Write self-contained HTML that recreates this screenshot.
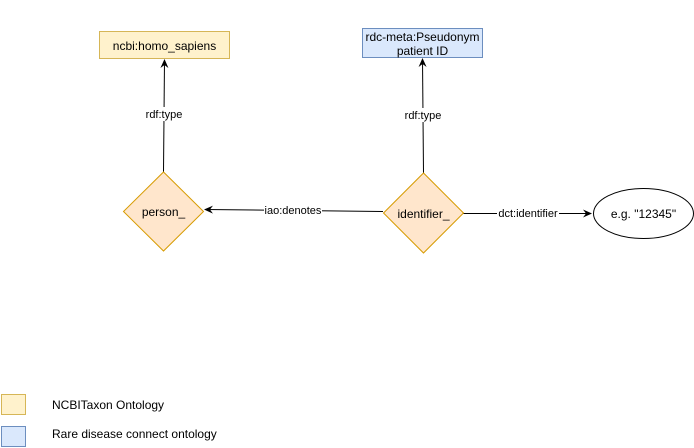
<!DOCTYPE html>
<html><head><meta charset="utf-8"><style>body{margin:0;background:#fff}svg{display:block}</style></head>
<body>
<svg width="694" height="448" viewBox="0 0 694 448" xmlns="http://www.w3.org/2000/svg" font-family="Liberation Sans, sans-serif">
<defs><marker id="a" markerWidth="10" markerHeight="10" refX="8" refY="5" orient="auto" markerUnits="userSpaceOnUse"><path d="M0,1 L9,5 L0,9 L3,5 Z" fill="#000"/></marker></defs>
<rect x="99.5" y="31.5" width="130" height="27" fill="#fff2cc" stroke="#d6b656"/>
<text x="164.5" y="50" font-size="12" text-anchor="middle">ncbi:homo_sapiens</text>
<rect x="362.5" y="28.5" width="120" height="29" fill="#dae8fc" stroke="#6c8ebf"/>
<text x="422.5" y="41" font-size="12" text-anchor="middle">rdc-meta:Pseudonym</text>
<text x="422.5" y="55" font-size="12" text-anchor="middle">patient ID</text>
<line x1="163.5" y1="172" x2="164.5" y2="60" stroke="#000" marker-end="url(#a)"/>
<rect x="144" y="107" width="40" height="14" fill="#fff"/>
<text x="164" y="118" font-size="11" text-anchor="middle">rdf:type</text>
<line x1="423.5" y1="173" x2="422.5" y2="59" stroke="#000" marker-end="url(#a)"/>
<rect x="403" y="108" width="40" height="14" fill="#fff"/>
<text x="423" y="119" font-size="11" text-anchor="middle">rdf:type</text>
<line x1="383" y1="211.5" x2="205" y2="209.5" stroke="#000" marker-end="url(#a)"/>
<rect x="264" y="203" width="58" height="14" fill="#fff"/>
<text x="293" y="214" font-size="11" text-anchor="middle">iao:denotes</text>
<line x1="463" y1="213.5" x2="591" y2="213.5" stroke="#000" marker-end="url(#a)"/>
<rect x="497" y="206" width="62" height="14" fill="#fff"/>
<text x="528" y="217" font-size="11" text-anchor="middle">dct:identifier</text>
<polygon points="163.5,172 203.5,211.5 163.5,251 123.5,211.5" fill="#ffe6cc" stroke="#d79b00"/>
<text x="163.5" y="216" font-size="12" text-anchor="middle">person_</text>
<polygon points="423.5,173 463.5,213 423.5,253 383.5,213" fill="#ffe6cc" stroke="#d79b00"/>
<text x="423.5" y="218" font-size="12" text-anchor="middle">identifier_</text>
<ellipse cx="643.5" cy="213.5" rx="50" ry="25" fill="#fff" stroke="#000"/>
<text x="643.5" y="218" font-size="12" text-anchor="middle">e.g. "12345"</text>
<rect x="1.5" y="394.5" width="24" height="20" fill="#fff2cc" stroke="#d6b656"/>
<text x="52" y="409" font-size="12">NCBITaxon Ontology</text>
<rect x="1.5" y="426.5" width="24" height="20" fill="#dae8fc" stroke="#6c8ebf"/>
<text x="52" y="438" font-size="12">Rare disease connect ontology</text>
</svg>
</body></html>
